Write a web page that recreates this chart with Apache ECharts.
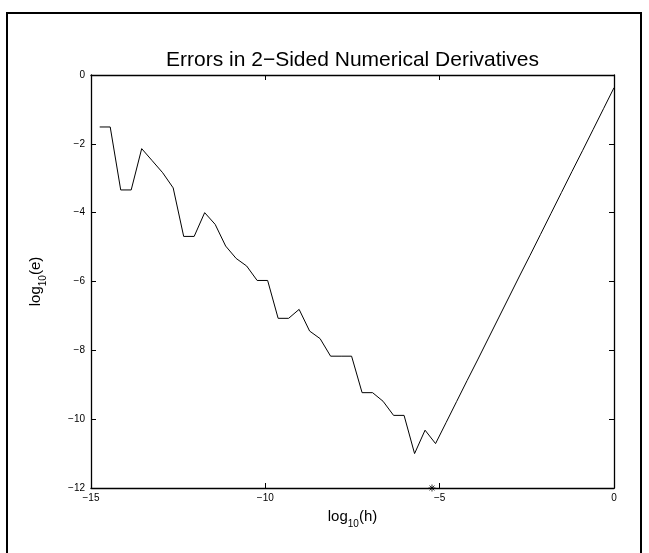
<!DOCTYPE html>
<html>
<head>
<meta charset="utf-8">
<script src="https://cdn.jsdelivr.net/npm/echarts@6/dist/echarts.min.js"></script>
<style>
  html, body { margin: 0; padding: 0; background: #fff; }
  #chart { width: 649px; height: 553px; }
</style>
</head>
<body>
<div id="chart"></div>
<script>
// Step sizes h = 2^-k, k = 49 … 0, as log10(h)
const logH = [
  -14.750, -14.449, -14.148, -13.847, -13.546, -13.245, -12.944, -12.643, -12.342, -12.041,
  -11.740, -11.439, -11.138, -10.837, -10.536, -10.235, -9.934, -9.633, -9.332, -9.031,
  -8.730, -8.429, -8.128, -7.827, -7.526, -7.225, -6.924, -6.623, -6.322, -6.021,
  -5.720, -5.419, -5.118, -4.816, -4.515, -4.214, -3.913, -3.612, -3.311, -3.010,
  -2.709, -2.408, -2.107, -1.806, -1.505, -1.204, -0.903, -0.602, -0.301, 0
];

// log10 of the absolute error of the central difference at each step size
const logErr = [
  -1.51, -1.51, -3.34, -3.34, -2.14, -2.49, -2.84, -3.28, -4.69, -4.69,
  -4.00, -4.34, -4.97, -5.33, -5.55, -5.97, -5.97, -7.07, -7.07, -6.81,
  -7.44, -7.66, -8.17, -8.17, -8.17, -9.23, -9.23, -9.48, -9.89, -9.89,
  -11.00, -10.32, -10.71, -10.10, -9.49, -8.88, -8.28, -7.67, -7.06, -6.45,
  -5.84, -5.24, -4.63, -4.02, -3.41, -2.80, -2.20, -1.59, -0.98, -0.37
];

// Theoretical optimum h = eps^(1/3), marked on the h axis
const optimalLogH = [-5.22];
const optimalMarkY = [-12];

const xTicks = [-15, -10, -5, 0];
const yTicks = [0, -2, -4, -6, -8, -10, -12];

const FONT = '"Liberation Sans", Arial, Helvetica, sans-serif';
const minus = v => String(v).replace('-', '\u2212');

const lineData = logH.map((x, i) => [x, logErr[i]]);
const markData = optimalLogH.map((x, i) => [x, optimalMarkY[i]]);

const xRange = { min: xTicks[0], max: xTicks[xTicks.length - 1], interval: 5 };
const yRange = { min: yTicks[yTicks.length - 1], max: yTicks[0], interval: 2 };

const axisLine = { show: true, onZero: false, lineStyle: { color: '#000', width: 1.3 } };
const axisTick = { show: true, inside: true, length: 5, lineStyle: { color: '#000', width: 1 } };
const tickLabel = { color: '#000', fontFamily: FONT, fontSize: 10, formatter: minus };

const nameRich = {
  m: { fontFamily: FONT, fontSize: 15, color: '#000', lineHeight: 16, verticalAlign: 'top' },
  s: { fontFamily: FONT, fontSize: 10, color: '#000', lineHeight: 10, verticalAlign: 'top', padding: [10, 0, 0, 0] }
};

const chart = echarts.init(document.getElementById('chart'), null, { renderer: 'canvas' });

chart.setOption({
  animation: false,
  backgroundColor: '#fff',
  grid: { left: 91, top: 75, width: 523, height: 413, containLabel: false },
  xAxis: [
    {
      type: 'value', position: 'bottom', ...xRange,
      axisLine, axisTick, splitLine: { show: false },
      axisLabel: { ...tickLabel, margin: 5 },
      name: '{m|log}{s|10}{m|(h)}',
      nameLocation: 'middle', nameGap: 21,
      nameTextStyle: { rich: nameRich }
    },
    {
      type: 'value', position: 'top', ...xRange,
      axisLine, axisTick, splitLine: { show: false },
      axisLabel: { show: false }
    }
  ],
  yAxis: [
    {
      type: 'value', position: 'left', ...yRange,
      axisLine, axisTick, splitLine: { show: false },
      axisLabel: { ...tickLabel, margin: 6 },
      name: '{m|log}{s|10}{m|(e)}',
      nameLocation: 'middle', nameGap: 47, nameRotate: 90,
      nameTextStyle: { rich: nameRich }
    },
    {
      type: 'value', position: 'right', ...yRange,
      axisLine, axisTick, splitLine: { show: false },
      axisLabel: { show: false }
    }
  ],
  graphic: [
    {
      type: 'rect', silent: true, z: 100,
      shape: { x: 7, y: 13, width: 634, height: 580 },
      style: { fill: 'none', stroke: '#000', lineWidth: 2 }
    },
    {
      type: 'text', silent: true, x: 352.5, y: 60,
      style: {
        text: 'Errors in 2\u2212Sided Numerical Derivatives',
        fontFamily: FONT, fontSize: 21, fill: '#000',
        textAlign: 'center', textVerticalAlign: 'middle'
      }
    }
  ],
  series: [
    {
      type: 'line', xAxisIndex: 0, yAxisIndex: 0,
      data: lineData, showSymbol: false, symbol: 'none',
      lineStyle: { color: '#000', width: 1 }
    },
    {
      type: 'scatter', xAxisIndex: 0, yAxisIndex: 0, clip: false,
      data: markData,
      symbol: 'path://M0,-10L0,10M-10,0L10,0M-7,-7L7,7M-7,7L7,-7',
      symbolSize: 7,
      itemStyle: { color: 'none', borderColor: '#000', borderWidth: 1 }
    }
  ]
});
</script>
</body>
</html>
